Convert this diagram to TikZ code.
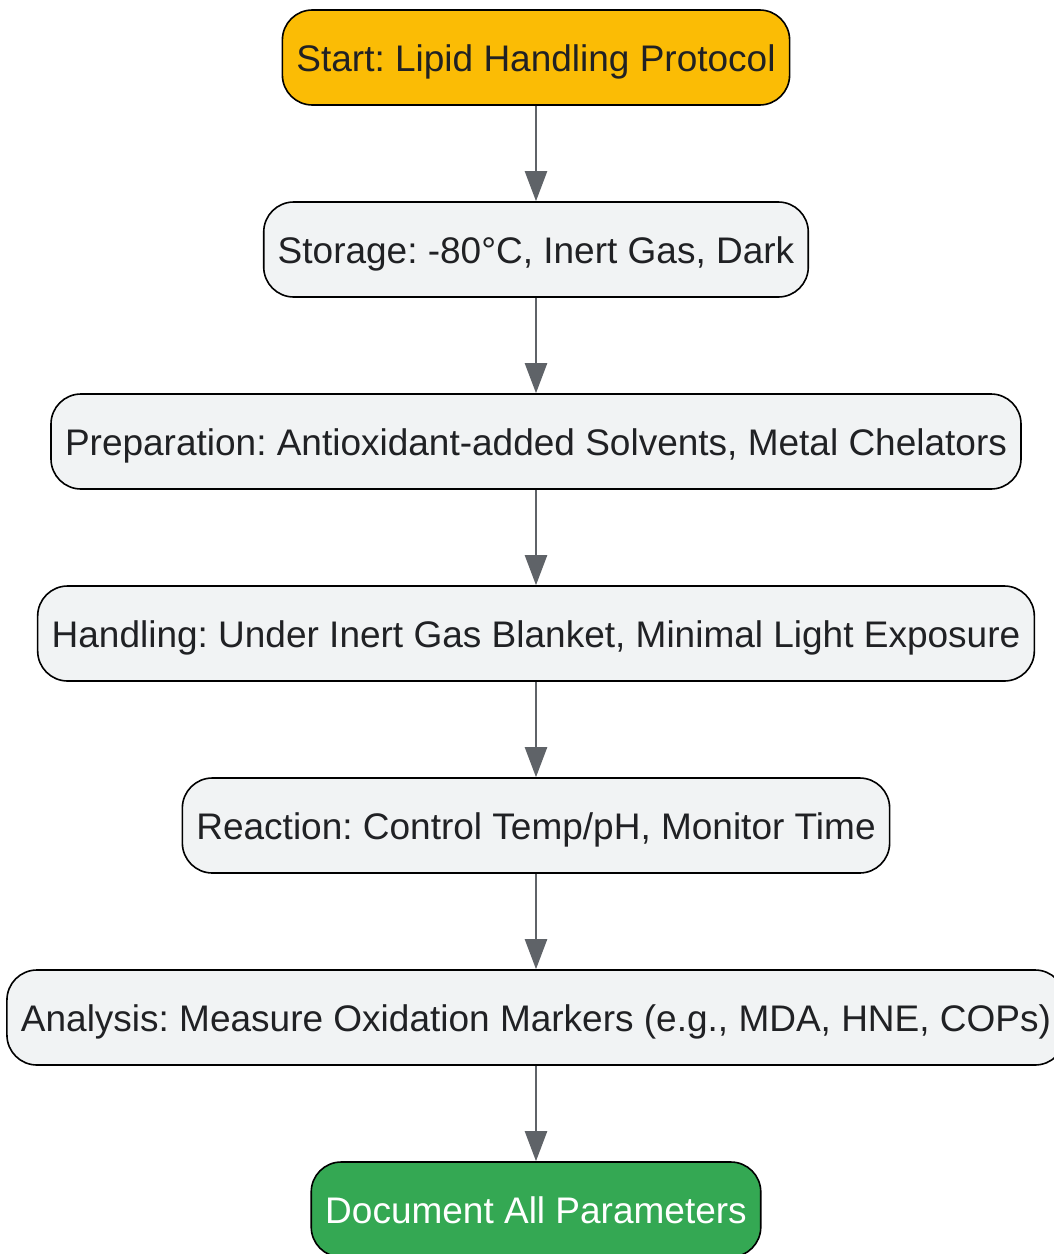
\documentclass[tikz,border=0pt]{standalone}
\usepackage{fontspec}
\setmainfont{Liberation Sans}
\usepackage{tikz}
\usetikzlibrary{positioning,arrows.meta}
\frenchspacing

\definecolor{startfill}{HTML}{FBBC05}
\definecolor{endfill}{HTML}{34A853}
\definecolor{stepfill}{HTML}{F1F3F4}
\definecolor{textdark}{HTML}{202124}
\definecolor{arrowgray}{HTML}{5F6368}

\tikzset{
  stepbox/.style={draw=black, line width=1.6pt, fill=stepfill, rounded corners=30pt,
    minimum height=95pt, inner xsep=14pt, text=textdark,
    text height=34pt, text depth=6pt,
    font=\fontsize{37}{44}\selectfont},
  startbox/.style={stepbox, fill=startfill},
  endbox/.style={stepbox, fill=endfill, text=white},
  flowarrow/.style={draw=arrowgray, line width=2.4pt, -{Triangle[length=30pt,width=22pt]}}
}

\begin{document}
\begin{tikzpicture}[x=1pt, y=1pt, node distance=95.4pt]
\useasboundingbox (0,0) rectangle (1054,-1254);
\node[startbox] (start) at (536,-57.5) {Start: Lipid Handling Protocol};
\node[stepbox, below=of start] (storage) {Storage: -80°C, Inert Gas, Dark};
\node[stepbox, below=of storage] (prep) {Preparation: Antioxidant-added Solvents, Metal Chelators};
\node[stepbox, below=of prep] (handling) {Handling: Under Inert Gas Blanket, Minimal Light Exposure};
\node[stepbox, below=of handling] (reaction) {Reaction: Control Temp/pH, Monitor Time};
\node[stepbox, below=of reaction] (analysis) {Analysis: Measure Oxidation Markers (e.g., MDA, HNE, COPs)};
\node[endbox, below=of analysis] (document) {Document All Parameters};
% connectors
\draw[flowarrow] (start) -- (storage);
\draw[flowarrow] (storage) -- (prep);
\draw[flowarrow] (prep) -- (handling);
\draw[flowarrow] (handling) -- (reaction);
\draw[flowarrow] (reaction) -- (analysis);
\draw[flowarrow] (analysis) -- (document);
\end{tikzpicture}
\end{document}
